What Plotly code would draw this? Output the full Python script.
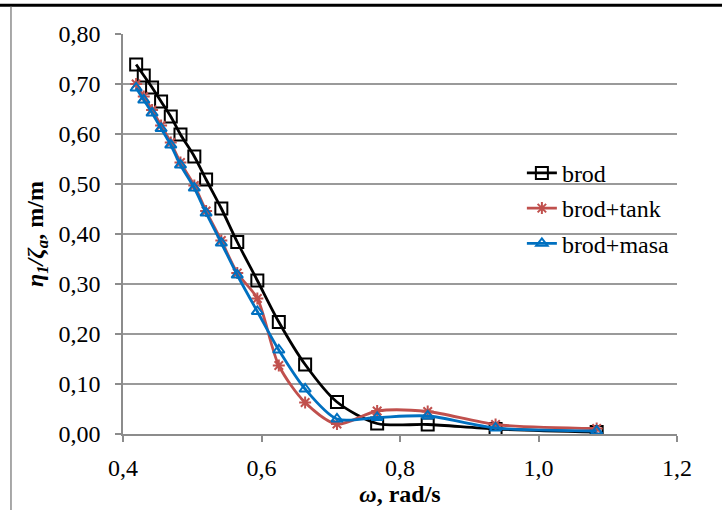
import plotly.graph_objects as go

omega = [0.419, 0.430, 0.442, 0.455, 0.469, 0.483, 0.503, 0.520, 0.542, 0.565,
         0.594, 0.625, 0.663, 0.709, 0.767, 0.840, 0.938, 1.084]
brod = [0.739, 0.717, 0.693, 0.665, 0.635, 0.599, 0.555, 0.509, 0.451, 0.384,
        0.307, 0.224, 0.139, 0.064, 0.021, 0.019, 0.010, 0.004]
brod_tank = [0.700, 0.675, 0.648, 0.617, 0.583, 0.543, 0.497, 0.446, 0.387, 0.322,
             0.271, 0.137, 0.063, 0.020, 0.046, 0.045, 0.019, 0.011]
brod_masa = [0.692, 0.668, 0.642, 0.611, 0.578, 0.538, 0.492, 0.442, 0.382, 0.318,
             0.245, 0.168, 0.090, 0.030, 0.033, 0.036, 0.012, 0.006]

names = ["brod", "brod+tank", "brod+masa"]
colors = ["#000000", "#C0504D", "#0070C0"]
symbols = ["square-open", "asterisk-open", "triangle-up-open"]
sizes = [12, 10, 10]

FONT = "Liberation Serif"

fig = go.Figure()
for i, (name, ys) in enumerate(zip(names, [brod, brod_tank, brod_masa])):
    fig.add_trace(go.Scatter(
        x=omega, y=ys, name=name, mode="lines+markers",
        legendgroup=name,
        line=dict(color=colors[i], width=2.8, shape="spline", smoothing=0.8),
        marker=dict(symbol=symbols[i], size=sizes[i], color=colors[i],
                    line=dict(color=colors[i], width=2)),
    ))

fig.update_layout(
    width=722, height=510,
    margin=dict(l=123, r=45, t=34, b=76, autoexpand=False),
    paper_bgcolor="white", plot_bgcolor="white",
    font=dict(family=FONT, size=24, color="black"),
    separators=", ",
    showlegend=True,
    legend=dict(x=0.72, y=0.708, xanchor="left", yanchor="top",
                bgcolor="rgba(0,0,0,0)", tracegroupgap=1,
                font=dict(family=FONT, size=24, color="black")),
    xaxis=dict(range=[0.4, 1.2], dtick=0.2, tick0=0.4, tickformat=".1f",
               automargin=False,
               showgrid=False, zeroline=False, showline=True,
               linecolor="#8c8c8c", linewidth=1.5,
               ticks="outside", ticklen=6, tickcolor="#8c8c8c", tickwidth=1.5,
               ticklabelstandoff=5,
               title=dict(text="<b><i>ω</i>, rad/s</b>", standoff=5,
                          font=dict(family=FONT, size=24))),
    yaxis=dict(range=[0, 0.8], dtick=0.1, tick0=0, tickformat=".2f",
               automargin=False,
               showgrid=True, gridcolor="#9a9a9a", gridwidth=1.5,
               zeroline=False, showline=True,
               linecolor="#8c8c8c", linewidth=1.5,
               ticks="outside", ticklen=6, tickcolor="#8c8c8c", tickwidth=1.5,
               ticklabelstandoff=10,
               title=dict(text="<b><i>η</i><sub><i>1</i></sub><i>/ζ</i><sub><i>a</i></sub>, m/m</b>",
                          standoff=8, font=dict(family=FONT, size=24))),
    shapes=[
        dict(type="line", xref="paper", yref="paper",
             x0=-0.23, x1=1.09, y0=1.072, y1=1.072,
             line=dict(color="black", width=3)),
        dict(type="line", xref="paper", yref="paper",
             x0=-0.2022, x1=-0.2022, y0=1.068, y1=-0.2,
             line=dict(color="#8c8c8c", width=1.5)),
    ],
)

fig.write_html("out.html", config={"displayModeBar": False},
               post_script="document.body.style.margin='0';")
